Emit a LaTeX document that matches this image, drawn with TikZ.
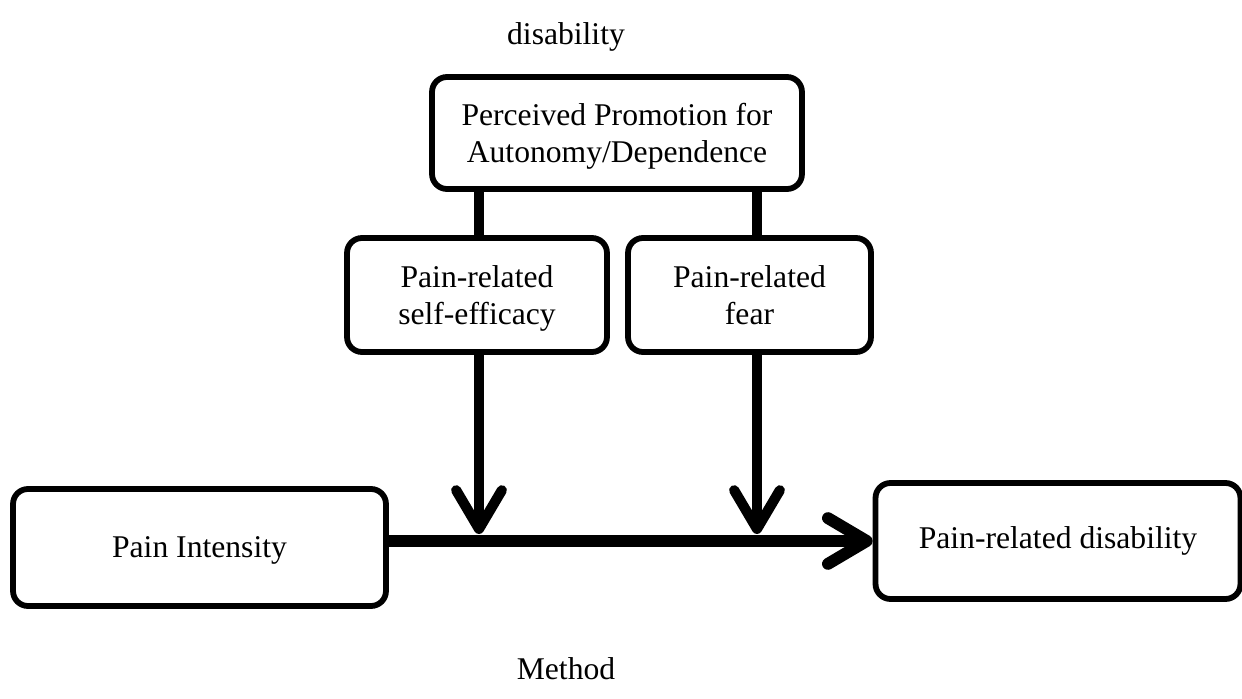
\documentclass[tikz,border=0pt]{standalone}
\usepackage{fontspec}
\setmainfont{Liberation Serif}
\usetikzlibrary{arrows.meta, positioning}

\begin{document}
\begin{tikzpicture}[x=0.02cm, y=-0.02cm,
		box/.style = {
			draw, line width=3.3pt, rounded corners=8.5pt, align=center,
			inner sep=0pt, font=\fontsize{18}{21}\selectfont
		},
		plain/.style = {font=\fontsize{18}{21}\selectfont},
		link/.style = {line width=5.8pt},
		modarrow/.style = {line width=5.8pt, -{Straight Barb[length=22pt, width=26pt, round]}},
		mainarrow/.style = {line width=6.8pt, -{Straight Barb[length=22pt, width=26pt, round]}}
	]
		\useasboundingbox (0,0) rectangle (1242,699);
		\node (top) [plain] at (566,37) {disability};
		\node (bottom) [plain] at (566,669) {Method};
		\node (promo) [box, text depth=0.5pt, minimum width=7.4cm, minimum height=2.24cm] at (617,133)
			{Perceived Promotion for\\Autonomy/Dependence};
		\node (efficacy) [box, text depth=-4pt, minimum width=5.2cm, minimum height=2.28cm] at (477,295)
			{Pain-related\\self-efficacy};
		\node (fear) [box, text depth=-6pt, minimum width=4.86cm, minimum height=2.28cm] at (749.5,295)
			{Pain-related\\fear};
		\node (pain) [box, text depth=-4pt, minimum width=7.46cm, minimum height=2.34cm] at (199.5,547.5)
			{Pain Intensity};
		\node (disab) [box, minimum width=7.3cm, minimum height=2.32cm] at (1058,541)
			{Pain-related disability};
		\coordinate (m1) at (479,534);
		\coordinate (m2) at (757,534);
		\draw [link] (promo.south -| m1) -- (efficacy.north -| m1);
		\draw [link] (promo.south -| m2) -- (fear.north -| m2);
		\draw [modarrow] (efficacy.south -| m1) -- (m1);
		\draw [modarrow] (fear.south -| m2) -- (m2);
		\draw [mainarrow] (pain.east |- disab.west) -- (disab.west);
	\end{tikzpicture}
\end{document}
